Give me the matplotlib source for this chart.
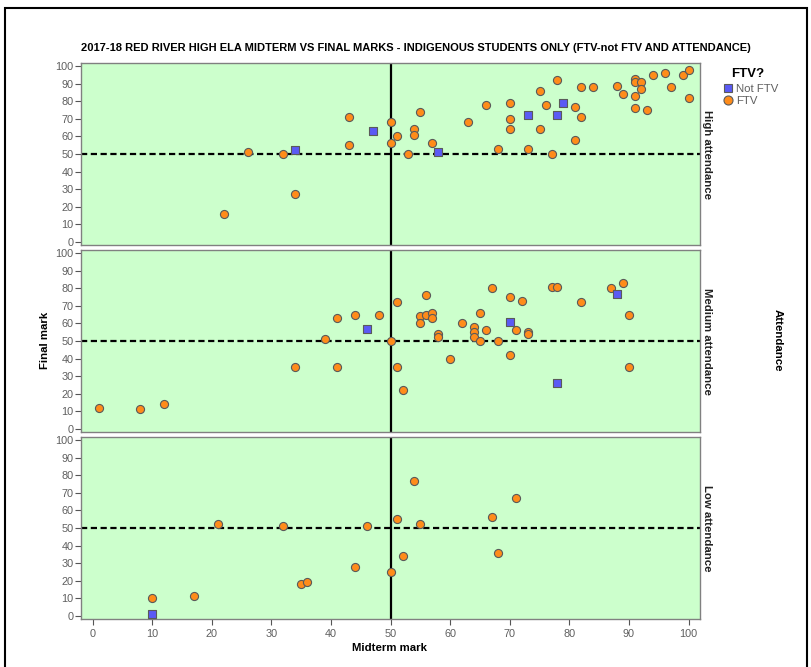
import matplotlib
matplotlib.use("Agg")
import matplotlib.pyplot as plt
from matplotlib.patches import Rectangle
from matplotlib.lines import Line2D

plt.rcParams['font.family'] = ['Liberation Sans', 'DejaVu Sans']

TITLE = ("2017-18 RED RIVER HIGH ELA MIDTERM VS FINAL MARKS - INDIGENOUS STUDENTS ONLY "
         "(FTV-not FTV AND ATTENDANCE)")
panel_names = ["High attendance", "Medium attendance", "Low attendance"]
tick_values = [0, 10, 20, 30, 40, 50, 60, 70, 80, 90, 100]

# High attendance
high_ftv_mid = [43, 50, 51, 50, 43, 26, 32, 34, 22, 55, 54, 54, 53, 57, 63, 66, 70, 70, 70, 68,
                73, 75, 76, 75, 78, 77, 81, 82, 81, 82, 84, 88, 89, 91, 91, 92, 92, 91, 91, 93,
                94, 96, 97, 99, 100, 100]
high_ftv_fin = [71, 68, 60, 56, 55, 51, 50, 27, 16, 74, 64, 61, 50, 56, 68, 78, 79, 70, 64, 53,
                53, 86, 78, 64, 92, 50, 77, 71, 58, 88, 88, 89, 84, 93, 91, 91, 87, 83, 76, 75,
                95, 96, 88, 95, 98, 82]
high_not_mid = [47, 34, 58, 73, 79, 78]
high_not_fin = [63, 52, 51, 72, 79, 72]

# Medium attendance
med_ftv_mid = [1, 8, 12, 34, 41, 39, 41, 44, 48, 50, 51, 51, 52, 56, 55, 56, 57, 57, 55, 58,
               58, 62, 64, 64, 64, 65, 65, 66, 67, 68, 60, 70, 70, 72, 71, 73, 73, 77, 78, 82,
               87, 89, 90, 90]
med_ftv_fin = [12, 11, 14, 35, 35, 51, 63, 65, 65, 50, 72, 35, 22, 76, 64, 65, 66, 63, 60, 54,
               52, 60, 58, 55, 52, 50, 66, 56, 80, 50, 40, 75, 42, 73, 56, 55, 54, 81, 81, 72,
               80, 83, 65, 35]
med_not_mid = [46, 70, 78, 88]
med_not_fin = [57, 61, 26, 77]

# Low attendance
low_ftv_mid = [10, 17, 21, 32, 35, 36, 44, 46, 50, 51, 52, 54, 55, 67, 68, 71]
low_ftv_fin = [10, 11, 52, 51, 18, 19, 28, 51, 25, 55, 34, 77, 52, 56, 36, 67]
low_not_mid = [10]
low_not_fin = [1]

panels = [
    (high_ftv_mid, high_ftv_fin, high_not_mid, high_not_fin),
    (med_ftv_mid, med_ftv_fin, med_not_mid, med_not_fin),
    (low_ftv_mid, low_ftv_fin, low_not_mid, low_not_fin),
]

W, H = 811, 667
fig = plt.figure(figsize=(W / 100, H / 100), dpi=100)

BG = '#CCFFCC'
ORANGE = '#FF8C1A'
BLUE = '#5A5AF5'
EDGE = '#5a5a5a'
GRAY = '#5f5f5f'

# outer frame
fig.patches.append(Rectangle((5 / W, -0.05), 802 / W, 1.05 - 8 / H, transform=fig.transFigure,
                             fill=False, edgecolor='black', linewidth=1.5, zorder=0))

left, right = 80.7, 700.5
tops = [62.7, 249.7, 436.7]
ph = 182.6

for i, (top, name, data) in enumerate(zip(tops, panel_names, panels)):
    ax = fig.add_axes([left / W, 1 - (top + ph) / H, (right - left) / W, ph / H])
    ax.set_facecolor(BG)
    fm, ff, nm, nf = data
    ax.axvline(50, color='black', linewidth=1.6, zorder=2)
    ax.axhline(50, color='black', linewidth=1.6, linestyle=(0, (2.8, 1.6)), zorder=2)
    ax.scatter(fm, ff, s=34, marker='o', facecolor=ORANGE, edgecolor=EDGE, linewidth=0.8, zorder=3)
    ax.scatter(nm, nf, s=30, marker='s', facecolor=BLUE, edgecolor=EDGE, linewidth=0.8, zorder=4)
    ax.set_xlim(-2, 102)
    ax.set_ylim(-2, 102)
    ax.set_yticks(tick_values)
    ax.set_xticks(tick_values)
    for sp in ax.spines.values():
        sp.set_color('#808080')
        sp.set_linewidth(1.0)
    ax.tick_params(axis='both', direction='out', length=4, width=0.8, color='#555555',
                   labelcolor=GRAY, labelsize=7.8, pad=1)
    if i < 2:
        ax.tick_params(axis='x', bottom=False, labelbottom=False)
    else:
        ax.tick_params(axis='x', pad=3)
    ax.text(1.003, 0.5, name, transform=ax.transAxes, rotation=-90, ha='left', va='center',
            fontsize=8.2, fontweight='bold', color='#222222')

fig.text(416 / W, 1 - 48 / H, TITLE, ha='center', va='center', fontsize=8.0, fontweight='bold')
fig.text(390 / W, 1 - 648 / H, "Midterm mark", ha='center', va='center', fontsize=8.2,
         fontweight='bold')
fig.text(45 / W, 1 - 340 / H, "Final mark", ha='center', va='center', rotation=90, fontsize=8.2,
         fontweight='bold')
fig.text(778 / W, 1 - 340 / H, "Attendance", ha='center', va='center', rotation=-90,
         fontsize=8.2, fontweight='bold')

# legend
fig.text(748 / W, 1 - 74 / H, "FTV?", ha='center', va='center', fontsize=9.5, fontweight='bold')
handles = [
    Line2D([], [], marker='s', linestyle='none', markersize=6, markerfacecolor=BLUE,
           markeredgecolor=EDGE, markeredgewidth=0.8, label='Not FTV'),
    Line2D([], [], marker='o', linestyle='none', markersize=6.5, markerfacecolor=ORANGE,
           markeredgecolor=EDGE, markeredgewidth=0.8, label='FTV'),
]
fig.legend(handles=handles, loc='upper left', bbox_to_anchor=(725 / W, 1 - 84 / H), frameon=False,
           fontsize=8.2, handlelength=0.6, handletextpad=0.35, labelspacing=0.15,
           borderpad=0, borderaxespad=0, labelcolor=GRAY)

fig.savefig("out.png", dpi=100)
